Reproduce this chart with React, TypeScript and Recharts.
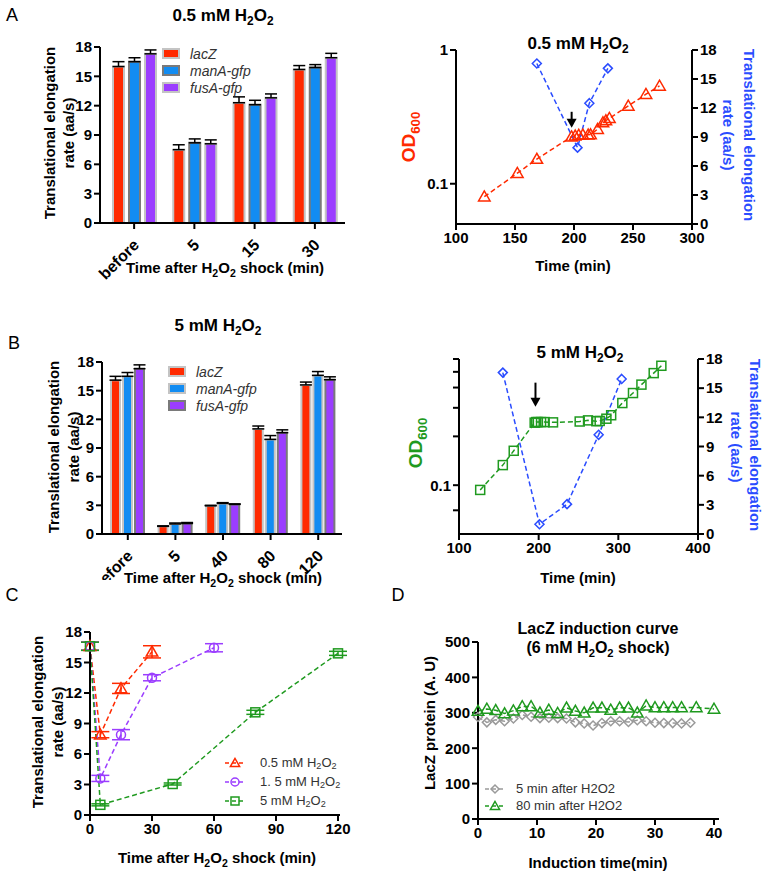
import React from 'react';
import {
  BarChart, Bar, ErrorBar, LineChart, Line, XAxis, YAxis, ReferenceDot,
} from 'recharts';

const FONT = '"Liberation Sans", Arial, Helvetica, sans-serif';
const RED = '#ff2a00';
const BLUE_BAR = '#128cf2';
const PURPLE = '#9b3dff';
const BLUE = '#2a4cff';
const GREEN = '#1f9a1f';
const GRAY = '#9a9a9a';

// panel A bars (0.5 mM)
const catsA = ['before', '5', '15', '30'];
const lacZA = [16.0, 7.5, 12.3, 15.7];
const lacZErrA = [0.5, 0.5, 0.6, 0.4];
const manAA = [16.5, 8.2, 12.1, 15.9];
const manAErrA = [0.4, 0.4, 0.45, 0.3];
const fusAA = [17.3, 8.1, 12.8, 16.9];
const fusAErrA = [0.4, 0.4, 0.4, 0.45];

// panel B bars (5 mM)
const catsB = ['before', '5', '40', '80', '120'];
const lacZB = [16.1, 0.8, 2.95, 11.0, 15.6];
const lacZErrB = [0.4, 0.05, 0.05, 0.3, 0.3];
const manAB = [16.5, 1.05, 3.2, 9.9, 16.6];
const manAErrB = [0.4, 0.1, 0.08, 0.4, 0.4];
const fusAB = [17.3, 1.1, 3.1, 10.6, 16.15];
const fusAErrB = [0.4, 0.1, 0.05, 0.3, 0.3];

// growth / rate 0.5 mM
const odTimeA = [124, 152, 168.5, 198, 201, 204, 207.5, 212, 214, 220, 224.5, 227, 230, 246, 261, 272.5];
const odA = [0.08, 0.12, 0.153, 0.225, 0.228, 0.231, 0.232, 0.232, 0.233, 0.256, 0.287, 0.297, 0.309, 0.382, 0.467, 0.539];
const rateTimeA = [168.5, 203, 213, 228.7];
const rateA = [16.6, 7.9, 12.5, 16.1];

// growth / rate 5 mM
const odTimeB = [126.6, 155, 168.7, 195, 197, 199, 203, 207.5, 218, 251.5, 262, 272.4, 276.6, 285, 291, 305, 318.4, 329, 344.4, 354];
const odB = [0.0935, 0.133, 0.163, 0.243, 0.245, 0.245, 0.245, 0.245, 0.244, 0.247, 0.251, 0.248, 0.249, 0.257, 0.27, 0.321, 0.37, 0.417, 0.491, 0.545];
const rateTimeB = [155, 201, 235.6, 275.3, 304.2];
const rateB = [16.6, 1.0, 3.07, 10.2, 15.95];

// panel C
const timeC05 = [0, 5, 15, 30];
const rateC05 = [16.6, 7.9, 12.45, 16.05];
const errC05 = [0.4, 0.3, 0.5, 0.6];
const timeC15 = [0, 5, 15, 30, 60];
const rateC15 = [16.6, 3.6, 7.9, 13.5, 16.45];
const errC15 = [0.4, 0.3, 0.5, 0.3, 0.4];
const timeC5 = [0, 5, 40, 80, 120];
const rateC5 = [16.6, 1.0, 3.05, 10.1, 15.9];
const errC5 = [0.4, 0.1, 0.1, 0.2, 0.2];

// panel D
const timeD5 = [0, 1.5, 3, 4.5, 6, 7.5, 9, 10.5, 12, 13.5, 15, 16.5, 18, 19.5, 21, 22.5, 24, 25.5, 27, 28.5, 30, 31.5, 33, 34.5, 36];
const lacZD5 = [288, 273, 280, 276, 284, 294, 289, 285, 286, 285, 284, 273, 270, 264, 271, 276, 276, 274, 279, 276, 272, 271, 271, 270, 272];
const timeD80 = [0, 1.5, 3, 4.5, 6, 7.5, 9, 10.5, 12, 13.5, 15, 16.5, 18, 19.5, 21, 22.5, 24, 25.5, 27, 28.5, 30, 31.5, 33, 34.5, 37, 40];
const lacZD80 = [305, 311, 307, 298, 306, 318, 318, 300, 308, 299, 314, 305, 300, 314, 314, 308, 314, 314, 300, 320, 315, 315, 315, 315, 315, 311];

const rateTicks = [0, 3, 6, 9, 12, 15, 18];

const barSeries = [
  { key: 'lacZ', name: 'lacZ', color: RED },
  { key: 'manA', name: 'manA-gfp', color: BLUE_BAR },
  { key: 'fusA', name: 'fusA-gfp', color: PURPLE },
];

const barRows = (cats: string[], a: number[], ae: number[], b: number[], be: number[], c: number[], ce: number[]) =>
  cats.map((cat, i) => ({
    cat,
    lacZ: a[i], lacZErr: [0, ae[i]],
    manA: b[i], manAErr: [0, be[i]],
    fusA: c[i], fusAErr: [0, ce[i]],
  }));

const pts = (ts: number[], vs: number[], es?: number[]) =>
  ts.map((t, i) => ({ t, v: vs[i], e: es ? es[i] : 0 }));

const axisLine = { stroke: '#000', strokeWidth: 2 };
const tickStyle = { fontSize: 15, fontWeight: 700, fill: '#000', fontFamily: FONT };

const Marker = ({ kind, x, y, size, color }: any) => {
  const h = size / 2;
  if (kind === 'tri') {
    return <polygon points={`${x},${y - h * 1.15} ${x - h * 1.15},${y + h * 0.85} ${x + h * 1.15},${y + h * 0.85}`} fill="none" stroke={color} strokeWidth={1.5} />;
  }
  if (kind === 'dia') {
    return <polygon points={`${x},${y - h} ${x + h},${y} ${x},${y + h} ${x - h},${y}`} fill="none" stroke={color} strokeWidth={1.5} />;
  }
  if (kind === 'sq') {
    return <rect x={x - h} y={y - h} width={size} height={size} fill="none" stroke={color} strokeWidth={1.5} />;
  }
  return <circle cx={x} cy={y} r={h} fill="none" stroke={color} strokeWidth={1.5} />;
};

const dot = (kind: string, color: string, size: number) => (p: any) => (
  <g key={`d${p.index}`}>
    {p.cx != null && p.cy != null ? <Marker kind={kind} x={p.cx} y={p.cy} size={size} color={color} /> : null}
  </g>
);

const Sub = ({ children }: any) => (
  <span style={{ fontSize: '0.7em', position: 'relative', top: '0.35em' }}>{children}</span>
);
const H2O2 = () => <>H<Sub>2</Sub>O<Sub>2</Sub></>;

const T = ({ x, y, rot = 0, size = 15, weight = 700, color = '#000', children }: any) => (
  <div
    style={{
      position: 'absolute', left: x, top: y, whiteSpace: 'nowrap',
      transform: `translate(-50%, -50%) rotate(${rot}deg)`,
      fontFamily: FONT, fontSize: size, fontWeight: weight, color, lineHeight: 1,
    }}
  >
    {children}
  </div>
);

const RotTick = ({ x, y, payload }: any) => (
  <text
    x={x + 6} y={y + 15} transform={`rotate(-45 ${x + 6} ${y + 15})`}
    textAnchor="end" fontSize={16} fontWeight={700} fontFamily={FONT} fill="#000"
  >
    {payload.value}
  </text>
);

const BarLegend = ({ x, y, strokes }: any) => (
  <div style={{ position: 'absolute', left: x, top: y, fontFamily: FONT, fontStyle: 'italic', fontSize: 14, color: '#333' }}>
    {barSeries.map((s, i) => (
      <div key={s.key} style={{ display: 'flex', alignItems: 'center', height: 17 }}>
        <span style={{ width: 14, height: 7, background: s.color, border: `2px solid ${strokes[i]}`, marginRight: 10 }} />
        {s.name}
      </div>
    ))}
  </div>
);

const BarPanel = ({ top, data, margin, padLeft, barSize, barGap, strokes }: any) => (
  <div style={{ position: 'absolute', left: 0, top }}>
    <BarChart width={380} height={290} data={data} margin={margin} barGap={barGap}>
      <XAxis
        dataKey="cat" interval={0} height={40} padding={{ left: padLeft, right: 0 }}
        axisLine={axisLine} tickLine={axisLine} tickSize={6} tick={<RotTick />}
      />
      <YAxis
        width={40} domain={[0, 18]} ticks={rateTicks} interval={0}
        axisLine={axisLine} tickLine={axisLine} tickSize={6} tick={tickStyle}
      />
      {barSeries.map((s, i) => (
        <Bar key={s.key} dataKey={s.key} name={s.name} fill={s.color} stroke={strokes[i]} strokeWidth={2}
          barSize={barSize} isAnimationActive={false}>
          <ErrorBar dataKey={`${s.key}Err`} width={6} stroke="#000" strokeWidth={1.5} direction="y" />
        </Bar>
      ))}
    </BarChart>
  </div>
);

const Arrow = (len: number) => (p: any) => (
  <g>
    <line x1={p.cx} y1={p.cy - len} x2={p.cx} y2={p.cy - 7} stroke="#000" strokeWidth={2} />
    <path d={`M${p.cx - 5},${p.cy - 9} L${p.cx + 5},${p.cy - 9} L${p.cx},${p.cy} Z`} fill="#000" />
  </g>
);

const odFmt = (v: number) => (v === 0.1 ? '0.1' : v === 1 ? '1' : '');

const GrowthPanel = ({ top, margin, xDomain, xTicks, odDomain, odTicks, odData, odColor, odKind, rateData, arrow }: any) => (
  <div style={{ position: 'absolute', left: 380, top }}>
    <LineChart width={385} height={290} margin={margin}>
      <XAxis
        type="number" dataKey="t" domain={xDomain} ticks={xTicks} interval={0} height={30} allowDataOverflow
        axisLine={axisLine} tickLine={axisLine} tickSize={6} tick={tickStyle}
      />
      <YAxis
        yAxisId="od" type="number" scale="log" domain={odDomain} ticks={odTicks} interval={0} allowDataOverflow
        width={40} axisLine={axisLine} tickLine={axisLine} tickSize={6} tick={tickStyle} tickFormatter={odFmt}
      />
      <YAxis
        yAxisId="rate" orientation="right" domain={[0, 18]} ticks={rateTicks} interval={0}
        width={40} axisLine={axisLine} tickLine={axisLine} tickSize={6} tick={tickStyle}
      />
      <Line yAxisId="od" data={odData} dataKey="v" stroke={odColor} strokeWidth={1.5} strokeDasharray="5 3"
        dot={dot(odKind, odColor, odKind === 'tri' ? 10 : 9)} isAnimationActive={false} />
      <Line yAxisId="rate" data={rateData} dataKey="v" stroke={BLUE} strokeWidth={1.5} strokeDasharray="5 3"
        dot={dot('dia', BLUE, 9)} isAnimationActive={false} />
      <ReferenceDot yAxisId="od" x={arrow[0]} y={arrow[1]} shape={Arrow(arrow[2])} />
    </LineChart>
  </div>
);

const cSeries = [
  { data: pts(timeC05, rateC05, errC05), color: RED, kind: 'tri', label: '0.5 mM ' },
  { data: pts(timeC15, rateC15, errC15), color: PURPLE, kind: 'circ', label: '1. 5 mM ' },
  { data: pts(timeC5, rateC5, errC5), color: GREEN, kind: 'sq', label: '5 mM ' },
];

const LineLegend = ({ x, y, items, rowH, gap }: any) => (
  <div style={{ position: 'absolute', left: x, top: y, fontFamily: FONT, fontSize: 13, color: '#333' }}>
    {items.map((s: any, i: number) => (
      <div key={i} style={{ display: 'flex', alignItems: 'center', height: rowH, whiteSpace: 'nowrap' }}>
        <svg width={22} height={14} style={{ marginRight: gap }}>
          <line x1={1} y1={7} x2={21} y2={7} stroke={s.color} strokeWidth={1.5} strokeDasharray="4 3" />
          <Marker kind={s.kind} x={11} y={7} size={8} color={s.color} />
        </svg>
        {s.text}
      </div>
    ))}
  </div>
);

export default function App() {
  const dataA = barRows(catsA, lacZA, lacZErrA, manAA, manAErrA, fusAA, fusAErrA);
  const dataB = barRows(catsB, lacZB, lacZErrB, manAB, manAErrB, fusAB, fusAErrB);
  return (
    <div style={{ position: 'absolute', left: 0, top: 0, width: 765, height: 872, background: '#fff', overflow: 'hidden' }}>
      <BarPanel top={0} data={dataA} margin={{ top: 47, right: 35, left: 60, bottom: 27 }} padLeft={4}
        barSize={11} barGap={5} strokes={['#c4c4c4', '#7a7a7a', '#c4c4c4']} />
      <BarLegend x={162} y={45} strokes={['#c4c4c4', '#7a7a7a', '#c4c4c4']} />
      <BarPanel top={290} data={dataB} margin={{ top: 72, right: 38, left: 62, bottom: 6 }} padLeft={2}
        barSize={9} barGap={3} strokes={['#c4c4c4', '#c4c4c4', '#7a7a7a']} />
      <BarLegend x={168} y={363} strokes={['#c4c4c4', '#c4c4c4', '#7a7a7a']} />

      <GrowthPanel top={0} margin={{ top: 50, right: 33, left: 36, bottom: 36 }}
        xDomain={[100, 300]} xTicks={[100, 150, 200, 250, 300]} odDomain={[0.05, 1]} odTicks={[0.1, 1]}
        odData={pts(odTimeA, odA)} odColor={RED} odKind="tri" rateData={pts(rateTimeA, rateA)}
        arrow={[198, 0.262, 16]} />
      <GrowthPanel top={290} margin={{ top: 69, right: 27, left: 39, bottom: 16 }}
        xDomain={[100, 400]} xTicks={[100, 200, 300, 400]} odDomain={[0.05, 0.6]} odTicks={[0.07, 0.1, 0.2, 0.3, 0.4, 0.5, 0.6]}
        odData={pts(odTimeB, odB)} odColor={GREEN} odKind="sq" rateData={pts(rateTimeB, rateB)}
        arrow={[196, 0.305, 24]} />

      <div style={{ position: 'absolute', left: 0, top: 580 }}>
        <LineChart width={380} height={292} margin={{ top: 52, right: 40, left: 50, bottom: 27 }}>
          <XAxis type="number" dataKey="t" domain={[0, 120]} ticks={[0, 30, 60, 90, 120]} interval={0} height={30}
            padding={{ left: 0, right: 2 }} axisLine={axisLine} tickLine={axisLine} tickSize={6} tick={tickStyle} />
          <YAxis width={40} domain={[0, 18]} ticks={rateTicks} interval={0}
            axisLine={axisLine} tickLine={axisLine} tickSize={6} tick={tickStyle} />
          {cSeries.map((s, i) => (
            <Line key={i} data={s.data} dataKey="v" stroke={s.color} strokeWidth={1.5} strokeDasharray="5 3"
              dot={dot(s.kind, s.color, s.kind === 'tri' ? 10 : 9)} isAnimationActive={false}>
              <ErrorBar dataKey="e" width={9} stroke={s.color} strokeWidth={1.5} direction="y" />
            </Line>
          ))}
        </LineChart>
      </div>
      <LineLegend x={224} y={753} rowH={19} gap={14}
        items={cSeries.map((s) => ({ ...s, text: <>{s.label}<H2O2 /></> }))} />

      <div style={{ position: 'absolute', left: 380, top: 580 }}>
        <LineChart width={385} height={292} margin={{ top: 62, right: 46, left: 53, bottom: 23 }}>
          <XAxis type="number" dataKey="t" domain={[0, 40]} ticks={[0, 10, 20, 30, 40]} interval={0} height={30}
            padding={{ left: 0, right: 5 }} axisLine={axisLine} tickLine={axisLine} tickSize={6} tick={tickStyle} />
          <YAxis width={45} domain={[0, 500]} ticks={[0, 100, 200, 300, 400, 500]} interval={0}
            axisLine={axisLine} tickLine={axisLine} tickSize={6} tick={tickStyle} />
          <Line data={pts(timeD5, lacZD5)} dataKey="v" stroke={GRAY} strokeWidth={1.5} strokeDasharray="5 3"
            dot={dot('dia', GRAY, 9)} isAnimationActive={false} />
          <Line data={pts(timeD80, lacZD80)} dataKey="v" stroke={GREEN} strokeWidth={1.5} strokeDasharray="5 3"
            dot={dot('tri', GREEN, 10)} isAnimationActive={false} />
        </LineChart>
      </div>
      <LineLegend x={484} y={780} rowH={17} gap={10}
        items={[
          { color: GRAY, kind: 'dia', text: '5 min after H2O2' },
          { color: GREEN, kind: 'tri', text: '80 min after H2O2' },
        ]} />

      <T x={12} y={15} size={18} weight={400}>A</T>
      <T x={223} y={15} size={17}>0.5 mM <H2O2 /></T>
      <T x={49} y={133} rot={-90}>Translational elongation</T>
      <T x={68} y={133} rot={-90}>rate (aa/s)</T>
      <T x={225} y={267}>Time after <H2O2 /> shock (min)</T>

      <T x={578} y={43} size={17}>0.5 mM <H2O2 /></T>
      <T x={408} y={137} rot={-90} size={19} color={RED}>OD<Sub>600</Sub></T>
      <T x={749} y={135} rot={90} color={BLUE}>Translational elongation</T>
      <T x={728} y={135} rot={90} color={BLUE}>rate (aa/s)</T>
      <T x={573} y={265}>Time (min)</T>

      <T x={14} y={343} size={18} weight={400}>B</T>
      <T x={218} y={325} size={17}>5 mM <H2O2 /></T>
      <T x={53} y={447} rot={-90}>Translational elongation</T>
      <T x={73} y={447} rot={-90}>rate (aa/s)</T>
      <T x={223} y={577}>Time after <H2O2 /> shock (min)</T>

      <T x={580} y={352} size={17}>5 mM <H2O2 /></T>
      <T x={415} y={443} rot={-90} size={19} color={GREEN}>OD<Sub>600</Sub></T>
      <T x={755} y={445} rot={90} color={BLUE}>Translational elongation</T>
      <T x={736} y={447} rot={90} color={BLUE}>rate (aa/s)</T>
      <T x={578} y={577}>Time (min)</T>

      <T x={12} y={595} size={18} weight={400}>C</T>
      <T x={37} y={722} rot={-90}>Translational elongation</T>
      <T x={57} y={722} rot={-90}>rate (aa/s)</T>
      <T x={217} y={857}>Time after <H2O2 /> shock (min)</T>

      <T x={398} y={595} size={18} weight={400}>D</T>
      <T x={598} y={629} size={16}>LacZ induction curve</T>
      <T x={598} y={648} size={16}>(6 mM <H2O2 /> shock)</T>
      <T x={429} y={723} rot={-90}>LacZ protein (A. U)</T>
      <T x={598} y={862}>Induction time(min)</T>
    </div>
  );
}
